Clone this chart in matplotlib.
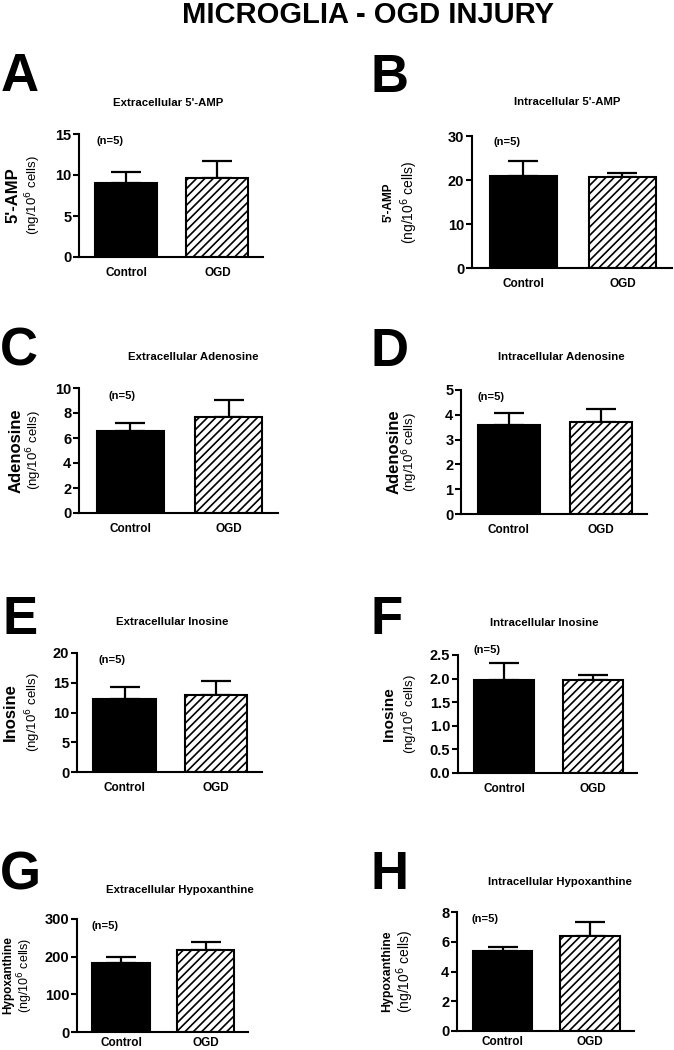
import matplotlib
matplotlib.use("Agg")
import matplotlib.pyplot as plt
import numpy as np

plt.rcParams['font.family'] = ['Liberation Sans', 'DejaVu Sans']
plt.rcParams['hatch.linewidth'] = 1.2

# ---- data ----
letters = ['A', 'B', 'C', 'D', 'E', 'F', 'G', 'H']
titles = ["Extracellular 5'-AMP", "Intracellular 5'-AMP",
          "Extracellular Adenosine", "Intracellular Adenosine",
          "Extracellular Inosine", "Intracellular Inosine",
          "Extracellular Hypoxanthine", "Intracellular Hypoxanthine"]
ylabels = ["5'-AMP", "5'-AMP", "Adenosine", "Adenosine",
           "Inosine", "Inosine", "Hypoxanthine", "Hypoxanthine"]
groups = ['Control', 'OGD']
ctrl_mean = [8.97, 20.8, 6.53, 3.59, 12.25, 1.97, 182, 5.36]
ctrl_err = [1.45, 3.5, 0.67, 0.47, 2.02, 0.37, 17, 0.27]
ogd_mean = [9.58, 20.6, 7.65, 3.70, 12.98, 1.96, 217, 6.37]
ogd_err = [2.12, 0.9, 1.39, 0.53, 2.30, 0.115, 21, 0.94]
ymax = [15, 30, 10, 5, 20, 2.5, 300, 8]
ystep = [5, 10, 2, 1, 5, 0.5, 100, 2]
n_label = '(n=5)'

# ---- layout (pixels of the 674x1050 canvas) ----
W, H = 674, 1050
# left, top, right, zero-line of each axes
boxes = [(79, 134, 263, 257), (472, 136, 672, 268),
         (79, 388, 278, 513), (461, 390, 647, 514),
         (77, 653, 262, 772), (458, 655, 637, 773),
         (77, 919, 248, 1032), (457, 912, 634, 1031)]
title_xy = [(168, 103), (567, 102), (193, 357), (561, 357),
            (172, 622), (544, 623), (180, 890), (560, 882)]
letter_xy = [(1, 77), (371, 78), (0, 352), (371, 352),
             (2, 620), (371, 620), (0, 876), (371, 875)]
ylab_x = [(13, 33), (389, 409), (16, 34), (394, 410),
          (10, 33), (389, 410), (8, 25), (387, 405)]
ylab_style = [(12, 'bold', 9.5), (8.5, 'bold', 10),
              (12, 'bold', 9.5), (12, 'bold', 9.5),
              (12, 'bold', 9.5), (11, 'bold', 9.5),
              (8.5, 'bold', 9), (8.8, 'bold', 10)]
n_pos = [(0.17, 0.94), (0.175, 0.955), (0.216, 0.936), (0.16, 0.944),
         (0.19, 0.94), (0.16, 1.04), (0.164, 0.94), (0.16, 0.94)]
xlab_pad = [7, 7, 7, 7, 7, 7, 3.5, 3.5]

fig = plt.figure(figsize=(W / 100, H / 100), dpi=100)
fig.text(368 / W, 1 - 23 / H, 'MICROGLIA - OGD INJURY', ha='center', va='baseline',
         fontsize=21, fontweight='bold')

x = np.arange(len(groups))
for i in range(len(letters)):
    l, t, r, z = boxes[i]
    ax = fig.add_axes([l / W, 1 - z / H, (r - l) / W, (z - t) / H])
    means = [ctrl_mean[i], ogd_mean[i]]
    errs = [ctrl_err[i], ogd_err[i]]
    ax.errorbar(x, means, yerr=[[0, 0], errs], fmt='none', ecolor='black',
                elinewidth=1.6, capsize=11, capthick=1.6, zorder=1)
    ax.bar(x[0], means[0], width=0.68, color='black', edgecolor='black',
           linewidth=1.5, zorder=2)
    ax.bar(x[1], means[1], width=0.68, color='white', edgecolor='black',
           linewidth=1.5, hatch='////', zorder=2)
    ax.set_xlim(-0.52, 1.5)
    ax.set_ylim(0, ymax[i])
    ticks = np.arange(0, ymax[i] + ystep[i] / 2, ystep[i])
    ax.set_yticks(ticks)
    if i == 5:
        ax.set_yticklabels(['%.1f' % v for v in ticks], fontsize=10.5, fontweight='bold')
    else:
        ax.set_yticklabels(['%g' % v for v in ticks], fontsize=10.5, fontweight='bold')
    ax.set_xticks(x)
    ax.set_xticklabels(groups, fontsize=8.5, fontweight='bold')
    ax.tick_params(axis='x', length=0, pad=xlab_pad[i])
    ax.tick_params(axis='y', length=4, width=1.5, pad=1.5)
    ax.spines['top'].set_visible(False)
    ax.spines['right'].set_visible(False)
    ax.spines['left'].set_linewidth(1.5)
    ax.spines['bottom'].set_linewidth(1.5)
    ax.text(n_pos[i][0], n_pos[i][1], n_label, transform=ax.transAxes,
            ha='center', va='center', fontsize=8, fontweight='bold')

    tx, ty = title_xy[i]
    fig.text(tx / W, 1 - ty / H, titles[i], ha='center', va='center',
             fontsize=8.2, fontweight='bold')
    lx, ly = letter_xy[i]
    fig.text(lx / W, 1 - ly / H, letters[i], ha='left', va='center',
             fontsize=38, fontweight='bold')
    cy = 1 - (t + z) / 2 / H
    s1, w1, s2 = ylab_style[i]
    fig.text(ylab_x[i][0] / W, cy, ylabels[i], rotation=90, ha='center',
             va='center', fontsize=s1, fontweight=w1)
    fig.text(ylab_x[i][1] / W, cy, r'(ng/10$^{6}$ cells)', rotation=90,
             ha='center', va='center', fontsize=s2)

fig.savefig('out.png', dpi=100)
